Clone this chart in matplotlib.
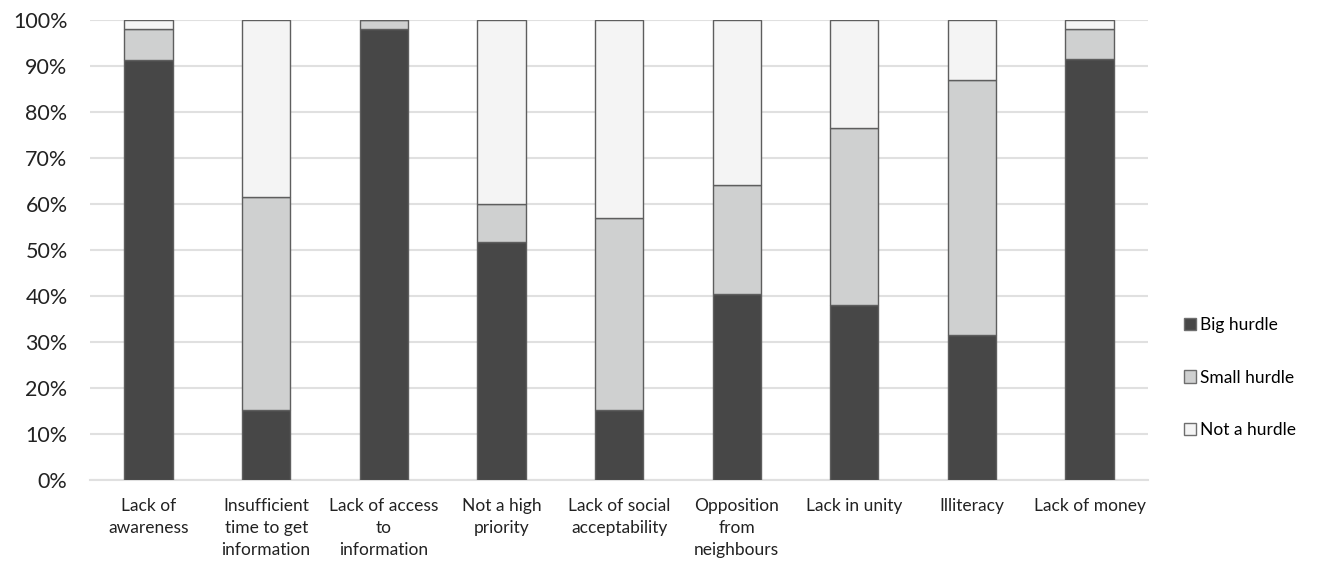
import matplotlib
matplotlib.use('Agg')
import matplotlib.pyplot as plt
from matplotlib.patches import Patch
import numpy as np

plt.rcParams['font.family'] = ['Lato', 'DejaVu Sans']

categories = ['Lack of\nawareness', 'Insufficient\ntime to get\ninformation',
              'Lack of access\nto\ninformation', 'Not a high\npriority',
              'Lack of social\nacceptability', 'Opposition\nfrom\nneighbours',
              'Lack in unity', 'Illiteracy', 'Lack of money']
big = [91.3, 15.1, 98.0, 51.6, 15.1, 40.5, 38.1, 31.5, 91.5]
small = [6.7, 46.4, 2.0, 8.4, 41.8, 23.5, 38.4, 55.5, 6.5]
not_hurdle = [2.0, 38.5, 0.0, 40.0, 43.1, 36.0, 23.5, 13.0, 2.0]

series_names = ['Big hurdle', 'Small hurdle', 'Not a hurdle']
colors = ['#474747', '#cfd0d0', '#f4f4f4']

fig = plt.figure(figsize=(13.2, 5.64), dpi=100)
ax = fig.add_axes([0.068, 0.149, 0.802, 0.816])

x = np.arange(len(categories))
w = 0.41
bottom = np.zeros(len(categories))
for vals, c in zip([big, small, not_hurdle], colors):
    vals = np.array(vals)
    ax.bar(x, vals, w, bottom=bottom, color=c, edgecolor='#5e5e5e', linewidth=1.0, zorder=3)
    bottom += vals

ax.set_xlim(-0.5, len(categories) - 0.5)
ax.set_ylim(0, 100)
ax.set_yticks(np.arange(0, 101, 10))
ax.set_yticklabels([f'{v}%' for v in range(0, 101, 10)], fontsize=15.5)
ax.set_xticks(x)
ax.set_xticklabels(categories, fontsize=12.5, linespacing=1.45, va='top')
ax.tick_params(axis='both', length=0, colors='#222222')
ax.tick_params(axis='x', pad=13)
ax.tick_params(axis='y', pad=16)

ax.grid(axis='y', color='#e0e0e0', linewidth=1.5, zorder=0)
for s in ['top', 'right', 'left']:
    ax.spines[s].set_visible(False)
ax.spines['bottom'].set_color('#e0e0e0')
ax.spines['bottom'].set_linewidth(1.5)

handles = [Patch(facecolor=c, edgecolor='#6e6e6e', label=n) for c, n in zip(colors, series_names)]
fig.legend(handles=handles, loc='upper left', bbox_to_anchor=(0.885, 0.466),
           frameon=False, fontsize=12.5, handlelength=0.7, handleheight=0.7,
           handletextpad=0.25, labelspacing=2.12)

fig.savefig('out.png', dpi=100)
